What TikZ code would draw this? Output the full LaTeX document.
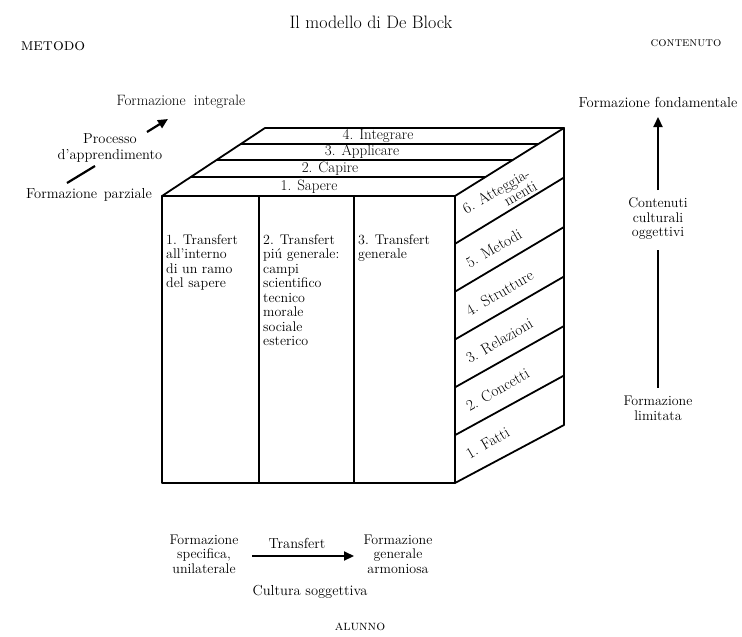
\documentclass[tikz,border=0pt]{standalone}
\usetikzlibrary{arrows.meta,calc}
\begin{document}
\begin{tikzpicture}[x=1pt,y=-1pt,
  edge/.style={line width=1.8pt, line cap=round, line join=round},
  lbl/.style={font=\fontsize{14.5}{16.5}\selectfont, inner sep=0pt, align=center},
  tight/.style={font=\fontsize{14}{14.5}\selectfont, inner sep=0pt, align=center},
  ftxt/.style={font=\fontsize{14}{14.5}\selectfont, inner sep=0pt, align=left, anchor=north west},
  toptxt/.style={font=\fontsize{15}{17}\selectfont, inner sep=0pt},
  side/.style={font=\fontsize{15.5}{13}\selectfont, inner sep=0pt, rotate=30, align=right, anchor=west},
  arr/.style={line width=2.2pt, -{Triangle[length=10pt,width=9pt]}},
  bar/.style={line width=2.2pt},
]
\useasboundingbox (0,0) rectangle (742,637);

% headings
\node[font=\fontsize{18}{20}\selectfont] (title) at (371,22) {Il modello di De Block};
\node[font=\fontsize{17}{18}\selectfont\scshape, inner sep=0pt] (metodo) at (53,46) {metodo};
\node[font=\fontsize{13}{15}\selectfont\scshape, inner sep=0pt] (contenuto) at (686,43) {contenuto};
\node[font=\fontsize{14}{15}\selectfont\scshape, inner sep=0pt] (alunno) at (360,627) {alunno};

% cube corners
\coordinate (FTL) at (162,196);
\coordinate (FTR) at (455,196);
\coordinate (FBL) at (162,483);
\coordinate (FBR) at (455,483);
\coordinate (BTL) at (265,128);
\coordinate (BTR) at (564,128);
\coordinate (BBR) at (564,425);

% front face
\draw[edge] (FTL) rectangle (FBR);
\draw[edge] (259,196) -- (259,483);
\draw[edge] (354,196) -- (354,483);
% top face
\draw[edge] (FTL) -- (BTL) -- (BTR) -- (FTR);
\foreach \t in {0.279,0.529,0.765}
  \draw[edge] ($(FTL)!\t!(BTL)$) -- ($(FTR)!\t!(BTR)$);
% right face
\draw[edge] (BTR) -- (BBR) -- (FBR);
\foreach \k in {1,...,5}
  \draw[edge] ($(FTR)!\k/6!(FBR)$) -- ($(BTR)!\k/6!(BBR)$);

% top face labels
\node[toptxt] (sapere) at (309,187) {1. Sapere};
\node[toptxt] (capire) at (330,169) {2. Capire};
\node[toptxt] (applicare) at (362,152) {3. Applicare};
\node[toptxt] (integrare) at (378,136) {4. Integrare};

% front face texts
\node[ftxt] (tr1) at (166,234) {1. Transfert\\all'interno\\di un ramo\\del sapere};
\node[ftxt] (tr2) at (263,234) {2. Transfert\\piú generale:\\campi\\scientifico\\tecnico\\morale\\sociale\\esterico};
\node[ftxt] (tr3) at (358,234) {3. Transfert\\generale};

% right face labels
\foreach \k/\txt/\nm in {0/{6. Atteggia-\\menti}/s6, 1/{5. Metodi}/s5, 2/{4. Strutture}/s4,
                        3/{3. Relazioni}/s3, 4/{2. Concetti}/s2, 5/{1. Fatti}/s1}
  \node[side] (\nm) at ($($(FTR)!{(\k+0.5)/6}!(FBR)$)+(12,-4)$) {\txt};

% left: method
\node[lbl, font=\fontsize{15}{16.5}\selectfont] (fint) at (181,102) {Formazione\hspace{0.55em}integrale};
\node[lbl] (proc) at (110,148) {Processo\\d'apprendimento};
\node[lbl] (fparz) at (89,195) {Formazione\hspace{0.45em}parziale};
\coordinate (pa1) at (67,183);
\coordinate (pa2) at (95,166);
\coordinate (pb1) at (147,132);
\coordinate (pb2) at (168,119);
\draw[bar] (pa1) -- (pa2);
\draw[arr] (pb1) -- (pb2);

% right: content
\node[lbl] (ffond) at (658,102) {Formazione fondamentale};
\node[tight] (cont) at (658,219) {Contenuti\\culturali\\oggettivi};
\node[tight] (flim) at (658,408.5) {Formazione\\limitata};
\coordinate (ca1) at (658,190);
\coordinate (ca2) at (658,117);
\coordinate (cb1) at (658,250);
\coordinate (cb2) at (658,388);
\draw[arr] (ca1) -- (ca2);
\draw[bar] (cb1) -- (cb2);

% bottom: pupil
\node[tight] (fspec) at (204,554) {Formazione\\specifica,\\unilaterale};
\node[lbl] (transf) at (297,543) {Transfert};
\node[tight] (fgen) at (398,554) {Formazione\\generale\\armoniosa};
\coordinate (ta1) at (252,556);
\coordinate (ta2) at (354,556);
\draw[arr] (ta1) -- (ta2);
\node[lbl] (cult) at (310,592) {Cultura soggettiva};
\end{tikzpicture}
\end{document}
